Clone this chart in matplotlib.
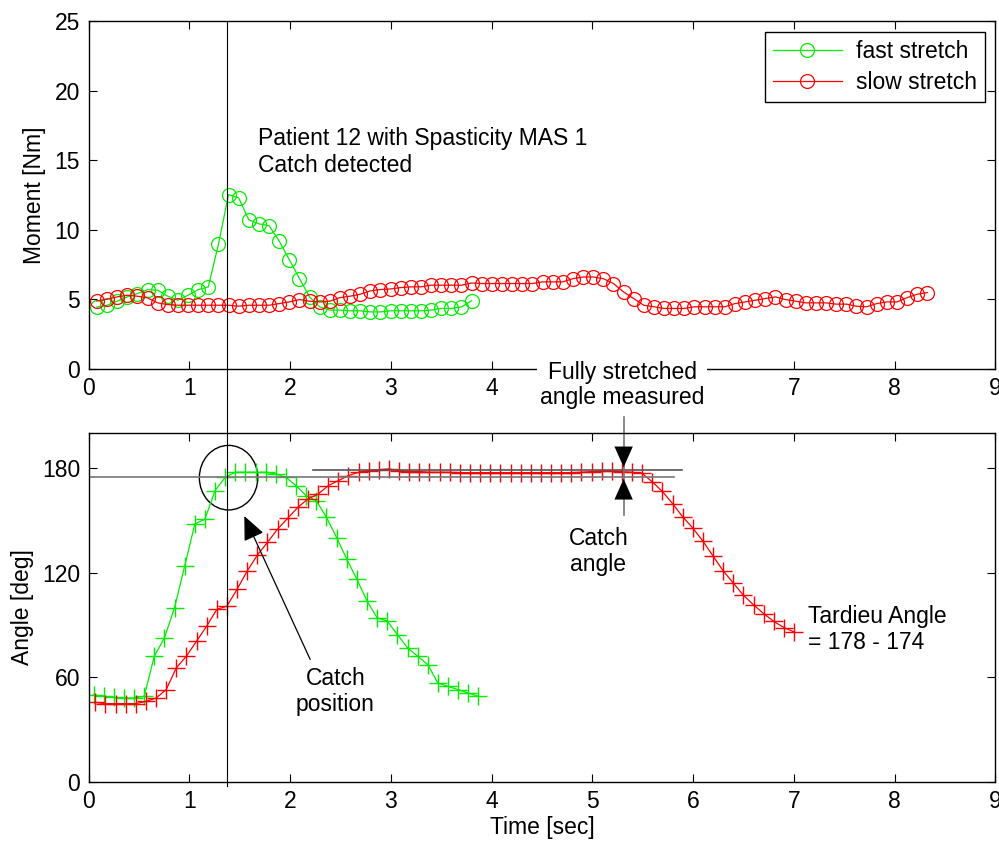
import numpy as np
import matplotlib
matplotlib.use("Agg")
import matplotlib.pyplot as plt
from matplotlib.lines import Line2D
from matplotlib.patches import Ellipse
import matplotlib.transforms as mtransforms

plt.rcParams['font.family'] = ['Liberation Sans', 'DejaVu Sans']
FS = 16.5
plt.rcParams['font.size'] = FS

# sampling of the recordings
DT = 0.1005
T0_MOMENT = 0.083
T0_FAST_ANGLE = 0.05
T0_SLOW_ANGLE = 0.067

# Moment [Nm]
fast_moment = [4.46, 4.58, 4.87, 5.18, 5.42, 5.70, 5.66, 5.23, 4.94, 5.30,
               5.70, 5.90, 8.95, 12.53, 12.30, 10.72, 10.43, 10.30, 9.19, 7.86,
               6.50, 5.18, 4.46, 4.23, 4.23, 4.18, 4.18, 4.10, 4.10, 4.18,
               4.18, 4.18, 4.18, 4.23, 4.35, 4.35, 4.46, 4.90]
slow_moment = [4.89, 5.01, 5.18, 5.30, 5.23, 5.11, 4.75, 4.63, 4.58, 4.58,
               4.58, 4.58, 4.58, 4.58, 4.51, 4.58, 4.58, 4.58, 4.70, 4.82,
               4.99, 4.87, 4.82, 4.87, 5.13, 5.23, 5.37, 5.61, 5.71, 5.75,
               5.85, 5.90, 5.90, 6.02, 6.02, 6.02, 6.02, 6.18, 6.14, 6.14,
               6.14, 6.14, 6.14, 6.14, 6.26, 6.26, 6.26, 6.49, 6.61, 6.61,
               6.49, 6.14, 5.54, 5.06, 4.58, 4.47, 4.35, 4.35, 4.35, 4.47,
               4.47, 4.47, 4.47, 4.70, 4.82, 4.94, 5.06, 5.18, 4.99, 4.87,
               4.75, 4.75, 4.75, 4.66, 4.66, 4.51, 4.47, 4.70, 4.82, 4.82,
               5.13, 5.37, 5.49]

# Angle [deg]
fast_angle = [50.0, 49.1, 48.5, 48.1, 48.1, 49.1, 72.1, 82.6, 99.9, 123.8,
              147.8, 150.7, 167.0, 174.6, 177.5, 177.5, 177.5, 177.5, 176.5, 174.6,
              169.8, 164.1, 161.2, 151.6, 140.1, 127.7, 116.2, 103.7, 94.1, 92.2,
              84.5, 76.9, 72.1, 67.3, 56.7, 54.8, 52.9, 51.0, 49.1]
slow_angle = [45.6, 44.9, 44.9, 44.9, 44.9, 46.2, 48.1, 52.9, 65.4, 72.1,
              80.7, 89.3, 98.9, 100.8, 110.4, 120.9, 130.0, 137.3, 144.9, 151.1,
              157.4, 162.2, 165.0, 169.8, 172.7, 175.6, 177.5, 178.5, 179.0, 179.4,
              178.5, 177.9, 177.9, 177.5, 177.5, 177.5, 177.3, 177.3, 177.3, 177.3,
              177.3, 177.3, 177.3, 177.3, 177.3, 177.3, 177.3, 177.3, 177.5, 177.9,
              178.2, 178.2, 177.9, 177.5, 176.8, 172.0, 166.5, 159.5, 152.0, 145.5,
              138.0, 129.5, 121.0, 114.0, 107.0, 101.5, 96.5, 92.0, 88.5, 86.0]

catch_time = 1.374
catch_angle = 174.7
full_angle = 179.0
catch_x_arrow = 5.31

GREEN = '#00ee00'
RED = '#ff0000'
HEAD = '-|>,head_length=0.9,head_width=0.4'


def times(t0, values):
    return t0 + DT * np.arange(len(values))


def style_axes(ax):
    ax.tick_params(direction='in', top=True, right=True, length=6, width=0.8,
                   labelsize=FS, pad=6)
    for s in ax.spines.values():
        s.set_linewidth(1.0)
    ax.set_xlim(0, 9)
    ax.set_xticks(range(10))


fig = plt.figure(figsize=(9.99, 8.43), dpi=100)
W, H = 999.0, 843.0
ax1 = fig.add_axes([88.5 / W, 1 - 369 / H, 907 / W, 348 / H])
ax2 = fig.add_axes([88.5 / W, 1 - 782 / H, 907 / W, 349 / H])

# top: moment
ax1.plot(times(T0_MOMENT, fast_moment), fast_moment, '-o', color=GREEN, lw=0.9,
         ms=10, mfc='none', mew=0.9, label='fast stretch')
ax1.plot(times(T0_MOMENT, slow_moment), slow_moment, '-o', color=RED, lw=0.9,
         ms=10, mfc='none', mew=0.9, label='slow stretch')
style_axes(ax1)
ax1.set_ylim(0, 25)
ax1.set_yticks(range(0, 26, 5))
ax1.set_ylabel('Moment [Nm]', labelpad=6)
leg = ax1.legend(loc='upper right', bbox_to_anchor=(0.988, 0.968), borderaxespad=0,
                 fancybox=False, edgecolor='black', framealpha=1, handlelength=3.0,
                 fontsize=FS, borderpad=0.35, labelspacing=0.35, handletextpad=0.6)
leg.get_frame().set_linewidth(1.0)
ax1.text(1.68, 15.6, 'Patient 12 with Spasticity MAS 1\nCatch detected',
         ha='left', va='center', linespacing=1.2)

# bottom: angle
ax2.plot(times(T0_FAST_ANGLE, fast_angle), fast_angle, '-+', color=GREEN, lw=0.9,
         ms=13, mew=1.0)
ax2.plot(times(T0_SLOW_ANGLE, slow_angle), slow_angle, '-+', color=RED, lw=0.9,
         ms=13, mew=1.0)
style_axes(ax2)
ax2.set_ylim(0, 200)
ax2.set_yticks([0, 60, 120, 180])
ax2.set_xlabel('Time [sec]', labelpad=2)
ax2.set_ylabel('Angle [deg]', labelpad=6)

# reference lines for catch / fully stretched angle
ax2.plot([0, 5.81], [catch_angle, catch_angle], color='#777777', lw=1.2)
ax2.plot([2.23, 5.89], [full_angle, full_angle], color='#555555', lw=1.2)
ax2.add_patch(Ellipse((1.39, 174.4), 0.58, 37.0, fill=False, ec='black', lw=1.0))

ax2.plot([catch_x_arrow, catch_x_arrow], [209, 153], color='#777777', lw=1.2,
         clip_on=False)
ax2.annotate('', xy=(catch_x_arrow, full_angle + 1.4), xytext=(catch_x_arrow, 203),
             arrowprops=dict(arrowstyle=HEAD, color='black', lw=0.01,
                             shrinkA=0, shrinkB=0),
             annotation_clip=False)
ax2.annotate('', xy=(catch_x_arrow, catch_angle - 1.0), xytext=(catch_x_arrow, 155),
             arrowprops=dict(arrowstyle=HEAD, color='black', lw=0.01,
                             shrinkA=0, shrinkB=0))

ax2.annotate('', xy=(1.546, 152.4), xytext=(2.20, 70.2),
             arrowprops=dict(arrowstyle=HEAD, color='black', lw=0.9,
                             shrinkA=0, shrinkB=0))
ax2.text(2.45, 51.8, 'Catch\nposition', ha='center', va='center', linespacing=1.2)
ax2.text(5.06, 132.0, 'Catch\nangle', ha='center', va='center', linespacing=1.2)
ax2.text(7.14, 87.4, 'Tardieu Angle\n= 178 - 174', ha='left', va='center',
         linespacing=1.15)

fig.text(622 / W, 1 - 385 / H, 'Fully stretched\nangle measured', ha='center',
         va='center', linespacing=1.15, zorder=10,
         bbox=dict(facecolor='white', edgecolor='none', pad=2))

# vertical line through both panels at the catch time
trans = mtransforms.blended_transform_factory(ax1.transData, fig.transFigure)
fig.add_artist(Line2D([catch_time, catch_time], [1 - 21 / H, 1 - 786 / H],
                      transform=trans, color='black', lw=0.8))

fig.savefig('out.png', dpi=100)
